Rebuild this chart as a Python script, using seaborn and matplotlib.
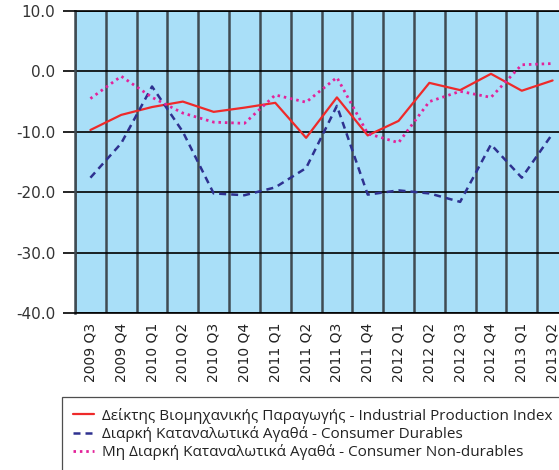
import matplotlib
matplotlib.use("Agg")
import matplotlib.pyplot as plt
import seaborn as sns
import pandas as pd
from matplotlib.ticker import FixedLocator

quarters = ["2009 Q3", "2009 Q4", "2010 Q1", "2010 Q2", "2010 Q3", "2010 Q4",
            "2011 Q1", "2011 Q2", "2011 Q3", "2011 Q4", "2012 Q1", "2012 Q2",
            "2012 Q3", "2012 Q4", "2013 Q1", "2013 Q2"]
industrial = [-9.7, -7.2, -5.9, -5.0, -6.7, -6.0, -5.2, -11.0,
              -4.3, -10.6, -8.2, -1.9, -3.1, -0.4, -3.2, -1.5]
durables = [-17.6, -11.9, -2.5, -10.0, -20.2, -20.5, -19.2, -16.0,
            -5.7, -20.4, -19.7, -20.2, -21.6, -12.1, -17.6, -10.3]
nondurables = [-4.5, -0.8, -4.3, -6.9, -8.4, -8.6, -3.9, -5.1,
               -1.0, -10.3, -11.8, -5.0, -3.3, -4.3, 1.1, 1.3]
series_labels = [
    "Δείκτης Βιομηχανικής Παραγωγής - Industrial Production Index",
    "Διαρκή Καταναλωτικά Αγαθά - Consumer Durables",
    "Μη Διαρκή Καταναλωτικά Αγαθά - Consumer Non-durables",
]
y_ticks = [-40, -30, -20, -10, 0, 10]

sns.set_theme(style="white")
plt.rcParams["font.family"] = ["DejaVu Sans"]
plt.rcParams["axes.unicode_minus"] = False

df = pd.DataFrame({"quarter": quarters, "ind": industrial,
                   "dur": durables, "nondur": nondurables})

W, H = 559, 470
fig = plt.figure(figsize=(W / 100, H / 100), dpi=100)
ax = fig.add_axes([75 / W, 1 - 313 / H, (568 - 75) / W, (313 - 11) / H])
ax.set_facecolor("#a9dff8")

styles = [
    ("ind", "#ee2a2a", "-", 1.6),
    ("dur", "#2e3190", (0, (2.8, 2.0)), 1.8),
    ("nondur", "#e3229a", (0, (0.9, 1.4)), 2.0),
]
for (col, color, ls, lw), lab in zip(styles, series_labels):
    sns.lineplot(data=df, x="quarter", y=col, ax=ax, color=color,
                 linestyle=ls, linewidth=lw, label=lab, sort=False)

handles, labels = ax.get_legend_handles_labels()
ax.get_legend().remove()

ax.set_xlim(-0.5, len(quarters) - 0.5)
ax.set_ylim(-40, 10)
ax.set_yticks(y_ticks)
ax.set_yticklabels([f"{v:.1f}" for v in y_ticks])
ax.set_xticks(range(len(quarters)))
ax.set_xticklabels(quarters, rotation=90)
ax.xaxis.set_minor_locator(FixedLocator([i - 0.5 for i in range(len(quarters) + 1)]))
ax.set_xlabel("")
ax.set_ylabel("")

ax.set_axisbelow(True)
ax.yaxis.grid(True, color="black", linewidth=1.2)
ax.xaxis.grid(True, which="minor", color="#3f4b52", linewidth=1.8)
ax.xaxis.grid(False, which="major")

ax.tick_params(axis="y", length=8.5, width=1.2, color="black", pad=5.5,
               labelsize=11, labelcolor="#333333", left=True)
ax.tick_params(axis="x", which="both", length=0, pad=7,
               labelsize=10, labelcolor="#222222")

for side in ["top", "bottom"]:
    ax.spines[side].set_color("black")
    ax.spines[side].set_linewidth(1.2)
ax.spines["left"].set_color("#3f4b52")
ax.spines["left"].set_linewidth(1.8)
ax.spines["right"].set_visible(False)

leg = fig.legend(handles, labels, loc="upper left",
                 bbox_to_anchor=(62 / W, 1 - 397 / H),
                 frameon=True, fancybox=False, edgecolor="#222222",
                 handlelength=1.4, handletextpad=0.55, labelspacing=0.15,
                 borderpad=0.7, borderaxespad=0,
                 prop={"family": "Open Sans", "size": 11.0})
leg.get_frame().set_linewidth(0.9)
for t in leg.get_texts():
    t.set_color("#222222")

fig.savefig("out.png", dpi=100)
